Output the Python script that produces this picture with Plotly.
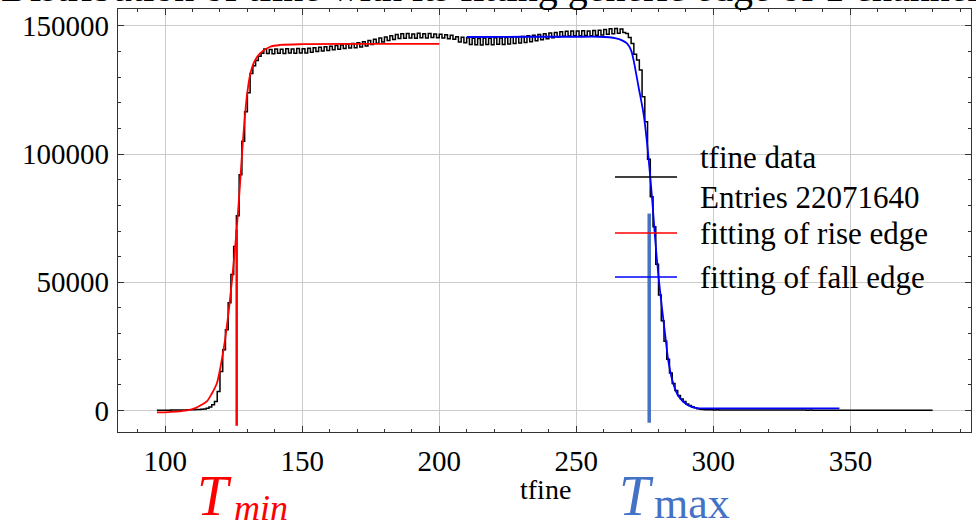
import plotly.graph_objects as go

# ---------------- data ----------------
bin_lo = 97          # first bin left edge, bin width = 1
tfine_counts = [
    # 97-102
    40, 50, 60, 80, 100, 130,
    # 103-112
    150, 160, 170, 180, 200, 220, 250, 280, 320, 380,
    # 113-135 (rise edge)
    450, 550, 800, 1300, 2200, 3500, 7400, 15200, 23700, 31500, 42000, 53000,
    64000, 76000, 92000, 105000, 116500, 124000, 131500, 134500, 136500, 138200, 139400,
    # 136-149
    141000, 139300, 140800, 139200, 141000, 139400, 140900, 139300, 141100, 139500,
    141000, 139400, 141200, 139500,
    # 150-169
    141100, 139500, 141300, 139800, 141500, 140000, 141700, 140200, 141900, 140400,
    142100, 140700, 142400, 140900, 142600, 141200, 142900, 141400, 143200, 141500,
    # 170-185
    143500, 141800, 143900, 142200, 144300, 142800, 144800, 143300, 145300, 143800,
    145700, 144300, 146200, 144700, 146700, 145100,
    # 186-199
    147000, 145200, 147100, 145300, 146900, 145200, 147200, 145400, 147000, 145300,
    147100, 145500, 146900, 145400,
    # 200-209
    146800, 145300, 146600, 145000, 146400, 144800, 145800, 143800, 145600, 143500,
    # 210-229
    145400, 142800, 145200, 142700, 145100, 142600, 145300, 142800, 145200, 142700,
    145400, 142900, 145300, 142800, 145500, 143000, 145600, 143200, 145700, 143400,
    # 230-249
    145900, 143600, 146200, 143900, 146400, 144200, 146700, 144600, 147000, 145000,
    147300, 145400, 147500, 145700, 147800, 146000, 147900, 146100, 148000, 146200,
    # 250-267
    148000, 146200, 148100, 146300, 148000, 146200, 148200, 146400, 148300, 146500,
    148600, 146800, 148900, 147000, 149000, 147200, 148800, 147500,
    # 268-297 (fall edge)
    147100, 145500, 143200, 139000, 136700, 132800, 122400, 112600, 98000, 83400,
    71700, 57000, 45000, 35000, 27000, 20000, 14600, 10500, 7800, 5800,
    4500, 3500, 2500, 1900, 1400, 1000, 700, 500, 350, 250,
    # 298-379 (tail)
    230, 220, 210, 220, 200, 190, 200, 190, 180, 190, 180, 170, 180, 170, 160, 170,
    160, 160, 150, 160, 150, 150, 140, 150, 140, 140, 130, 140, 130, 130, 130, 120,
    130, 120, 120, 120, 110, 120, 110, 110, 110, 100, 110, 100, 100, 100, 100, 90,
    100, 90, 90, 90, 90, 80, 90, 80, 80, 80, 80, 80, 70, 80, 70, 70,
    70, 70, 70, 60, 70, 60, 60, 60, 60, 60, 60, 50, 60, 50, 50, 50,
    50, 50,
]

rise_fit_x = [97, 100, 104, 108, 111, 113, 115.2, 117, 118.9, 121.3, 123, 124.5, 126.1,
              127.3, 128.4, 129.8, 131, 132.5, 134.7, 138.3, 142, 150, 170, 200]
rise_fit_y = [-800, -750, -500, 0, 900, 2000, 3500, 6500, 10700, 23700, 37000, 52000, 70600,
              88000, 105500, 122400, 131000, 136000, 139400, 141900, 142600, 142900, 143000, 143000]

fall_fit_x = [210, 230, 250, 258, 262, 264.5, 266.5, 268.5, 270, 270.9, 272.7, 274.5, 275.7,
              277.6, 278.8, 280, 281.2, 282.5, 283.7, 285.5, 287.3, 290.4, 294, 300, 346]
fall_fit_y = [145700, 145800, 145800, 145800, 145600, 145200, 144500, 143200, 140500, 136700,
              126300, 116000, 105500, 83400, 66500, 52200, 40500, 28800, 18500, 10000,
              5500, 2200, 900, 800, 800]

t_min = 126.1
t_min_span = [-6000, 70600]
t_max = 276.6
t_max_span = [-4800, 76800]

x_ticks = [100, 150, 200, 250, 300, 350]
y_ticks = [0, 50000, 100000, 150000]

legend_labels = ["tfine data<br>Entries 22071640", "fitting of rise edge", "fitting of fall edge"]
title_text = "Distribution of tfine with its fitting generic edge of 1 channel"

# ---------------- figure ----------------
FONT = "Liberation Serif"
W, H = 976, 531
L, R, T, B = 118, 5, 9, 99
PW, PH = W - L - R, H - T - B


def pxx(p):
    return (p - L) / PW


def pxy(p):
    return (H - B - p) / PH


edges = [bin_lo + i for i in range(len(tfine_counts) + 1)]
step_y = tfine_counts + [tfine_counts[-1]]

fig = go.Figure()
fig.add_trace(go.Scatter(x=edges, y=step_y, mode="lines", line=dict(color="black", width=1.5, shape="hv"),
                         showlegend=False, hoverinfo="skip"))
fig.add_trace(go.Scatter(x=rise_fit_x, y=rise_fit_y, mode="lines",
                         line=dict(color="#ff0000", width=1.8, shape="spline", smoothing=0.8),
                         showlegend=False))
fig.add_trace(go.Scatter(x=fall_fit_x, y=fall_fit_y, mode="lines",
                         line=dict(color="#0000ff", width=1.8, shape="spline", smoothing=0.8),
                         showlegend=False))
fig.add_trace(go.Scatter(x=[t_min, t_min], y=t_min_span, mode="lines",
                         line=dict(color="#ff0000", width=2.5), showlegend=False))
fig.add_trace(go.Scatter(x=[t_max, t_max], y=t_max_span, mode="lines",
                         line=dict(color="#4472c4", width=3.5), showlegend=False))

axis_common = dict(
    showline=True, linecolor="#333333", linewidth=1.2, mirror="allticks",
    ticks="inside", ticklen=6, tickwidth=1, tickcolor="#333333",
    showgrid=True, gridcolor="#cccccc", gridwidth=1, zeroline=False,
    tickfont=dict(family=FONT, size=29, color="black"),
)

fig.update_xaxes(range=[82.8, 394], tickvals=x_ticks,
                 minor=dict(dtick=10, ticks="inside", ticklen=3, tickcolor="#333333", showgrid=False),
                 ticklabelstandoff=3, **axis_common)
fig.update_yaxes(range=[-8420, 156630], tickvals=y_ticks, tickformat="d",
                 minor=dict(dtick=10000, ticks="inside", ticklen=3, tickcolor="#333333", showgrid=False),
                 ticklabelstandoff=2, **axis_common)

shapes = []
annotations = []
# legend
leg_rows = [(177, "black"), (233, "#ff0000"), (277, "#0000ff")]
for yp, col in leg_rows:
    shapes.append(dict(type="line", xref="paper", yref="paper", x0=pxx(615), x1=pxx(677),
                       y0=pxy(yp), y1=pxy(yp), line=dict(color=col, width=1.5)))
leg_text_y = [177, 233, 277]
for txt, yp in zip(legend_labels, leg_text_y):
    annotations.append(dict(text=txt, xref="paper", yref="paper", x=pxx(698), y=pxy(yp),
                            xanchor="left", yanchor="middle", showarrow=False, align="left",
                            font=dict(family=FONT, size=31, color="black")))

# x-axis title
annotations.append(dict(text="tfine", xref="paper", yref="paper", x=pxx(545), y=pxy(489),
                        xanchor="center", yanchor="middle", showarrow=False,
                        font=dict(family=FONT, size=28, color="black")))

# T_min / T_max labels
annotations.append(dict(text="<i>T</i>", xref="paper", yref="paper", x=pxx(214), y=pxy(529),
                        xanchor="center", yanchor="bottom", showarrow=False,
                        font=dict(family=FONT, size=56, color="#ff0000")))
annotations.append(dict(text="<i>min</i>", xref="paper", yref="paper", x=pxx(232), y=pxy(530),
                        xanchor="left", yanchor="bottom", showarrow=False,
                        font=dict(family=FONT, size=36, color="#ff0000")))
annotations.append(dict(text="<i>T</i>", xref="paper", yref="paper", x=pxx(636), y=pxy(529),
                        xanchor="center", yanchor="bottom", showarrow=False,
                        font=dict(family=FONT, size=56, color="#4472c4")))
annotations.append(dict(text="max", xref="paper", yref="paper", x=pxx(652), y=pxy(530),
                        xanchor="left", yanchor="bottom", showarrow=False,
                        font=dict(family=FONT, size=44, color="#4472c4")))

# clipped title at the very top
annotations.append(dict(text=title_text, xref="paper", yref="paper", x=pxx(490), y=pxy(12.5),
                        xanchor="center", yanchor="bottom", showarrow=False,
                        font=dict(family=FONT, size=40, color="black")))

fig.update_layout(
    width=W, height=H, margin=dict(l=L, r=R, t=T, b=B),
    paper_bgcolor="white", plot_bgcolor="white",
    shapes=shapes, annotations=annotations, showlegend=False,
)

fig.write_html("out.html")
